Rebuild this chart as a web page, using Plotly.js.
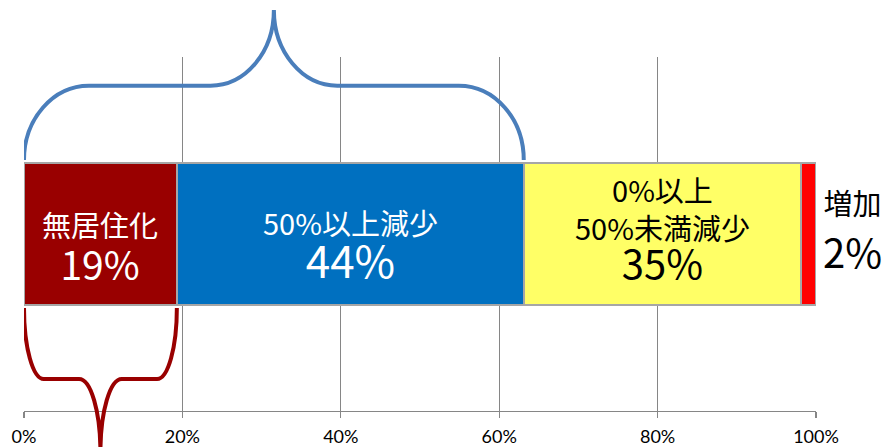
<!DOCTYPE html>
<html>
<head>
<meta charset="utf-8">
<script src="https://cdn.plot.ly/plotly-3.0.1.min.js"></script>
<style>html,body{margin:0;padding:0;background:#fff;}#chart{width:890px;height:447px;}</style>
</head>
<body>
<div id="chart"></div>
<script>
// ---- data ----
const categories = ['全体'];
const segNames = ['無居住化', '50%以上減少', '0%以上<br>50%未満減少', '増加'];
const segValues = [19.3, 43.8, 35.0, 1.9];
const segPctLabels = ['19%', '44%', '35%', '2%'];
const tickVals = [0, 20, 40, 60, 80, 100];
const tickLabels = ['0%', '20%', '40%', '60%', '80%', '100%'];

// ---- styles ----
const segColors = ['#990000', '#0070C0', '#FFFF66', '#FF0000'];
const textColors = ['#FFFFFF', '#FFFFFF', '#000000', '#000000'];
const JP = '"Noto Sans CJK JP", "Noto Sans", sans-serif';

const traces = segValues.map((v, i) => ({
  type: 'bar',
  orientation: 'h',
  y: [0],
  x: [v],
  name: segNames[i],
  width: 0.4,
  marker: { color: segColors[i], line: { color: '#A6A6A6', width: 1.5 } },
  hoverinfo: 'skip'
}));

// cumulative positions
const starts = [];
let acc = 0;
segValues.forEach(v => { starts.push(acc); acc += v; });
const mids = segValues.map((v, i) => starts[i] + v / 2);

// plot area in px: top 57, bottom 411 -> paper conversion for y
const PT = 57, PB = 411, PH = PB - PT;
const py = p => (PB - p) / PH;

// label block per segment: name line(s) + percentage line
const blockY = [247, 246, 229.5, 230];
const baseSize = [33, 33, 29.5, 41];
const nameSize = [29, 29, 29, 29];
const pctSize = [39, 44, 40, 40];

const annotations = segValues.map((v, i) => {
  const txt = segNames[i].split('<br>')
    .map(s => `<span style="font-size:${nameSize[i]}px">${s}</span>`).join('<br>') +
    `<br><span style="font-size:${pctSize[i]}px">${segPctLabels[i]}</span>`;
  const a = {
    y: py(blockY[i]), yref: 'paper',
    text: txt, showarrow: false, xanchor: 'center', yanchor: 'middle',
    font: { family: JP, size: baseSize[i], color: textColors[i] }
  };
  if (i < 3) { a.x = mids[i]; a.xref = 'x'; }
  else { a.x = 1.046; a.xref = 'paper'; }
  return a;
});

// ---- braces ----
const K = 0.5523;
function topBrace(x0, x1, yb, yh, yp, w, w2) {
  const xc = (x0 + x1) / 2;
  return `M ${x0},${yb} C ${x0},${yb + K * (yh - yb)} ${x0 + w - K * w},${yh} ${x0 + w},${yh} ` +
    `L ${xc - w2},${yh} C ${xc - w2 + K * w2},${yh} ${xc},${yp - K * (yp - yh)} ${xc},${yp} ` +
    `C ${xc},${yp - K * (yp - yh)} ${xc + w2 - K * w2},${yh} ${xc + w2},${yh} ` +
    `L ${x1 - w},${yh} C ${x1 - w + K * w},${yh} ${x1},${yb + K * (yh - yb)} ${x1},${yb}`;
}
function bottomBrace(x0, x1, yt, yh, ytip, w, w2) {
  const xc = (x0 + x1) / 2;
  return `M ${x0},${yt} C ${x0},${yt - K * (yt - yh)} ${x0 + w - K * w},${yh} ${x0 + w},${yh} ` +
    `L ${xc - w2},${yh} C ${xc - w2 + K * w2},${yh} ${xc},${ytip + K * (yh - ytip)} ${xc},${ytip} ` +
    `C ${xc},${ytip + K * (yh - ytip)} ${xc + w2 - K * w2},${yh} ${xc + w2},${yh} ` +
    `L ${x1 - w},${yh} C ${x1 - w + K * w},${yh} ${x1},${yt - K * (yt - yh)} ${x1},${yt}`;
}

const shapes = [
  {
    type: 'path', xref: 'x', yref: 'paper', layer: 'above',
    path: topBrace(starts[0], starts[1] + segValues[1], py(160), py(85.7), py(10), 8.2, 8.0),
    line: { color: '#4A7EBB', width: 4 }
  },
  {
    type: 'path', xref: 'x', yref: 'paper', layer: 'above',
    path: bottomBrace(starts[0], starts[0] + segValues[0], py(308), py(379), py(452), 2.5, 2.7),
    line: { color: '#990000', width: 4 }
  }
];

const layout = {
  width: 890, height: 447,
  margin: { l: 24, r: 74, t: PT, b: 447 - PB, pad: 0 },
  paper_bgcolor: '#FFFFFF', plot_bgcolor: '#FFFFFF',
  barmode: 'stack', showlegend: false, hovermode: false,
  xaxis: {
    range: [0, 100], tickmode: 'array', tickvals: tickVals, ticktext: tickLabels,
    showgrid: true, gridcolor: '#868686', gridwidth: 1.3, zeroline: false,
    showline: true, linecolor: '#868686', linewidth: 1.3,
    ticks: 'outside', ticklen: 6, tickcolor: '#868686', tickwidth: 1.3,
    ticklabelstandoff: 3,
    tickfont: { family: 'Lato, "Liberation Sans", sans-serif', size: 18, color: '#000000' },
    fixedrange: true
  },
  yaxis: {
    range: [-0.5, 0.5], showgrid: false, zeroline: false, showline: false,
    showticklabels: false, ticks: '', fixedrange: true
  },
  annotations: annotations,
  shapes: shapes
};

Plotly.newPlot('chart', traces, layout, { displayModeBar: false, staticPlot: true });
</script>
</body>
</html>
